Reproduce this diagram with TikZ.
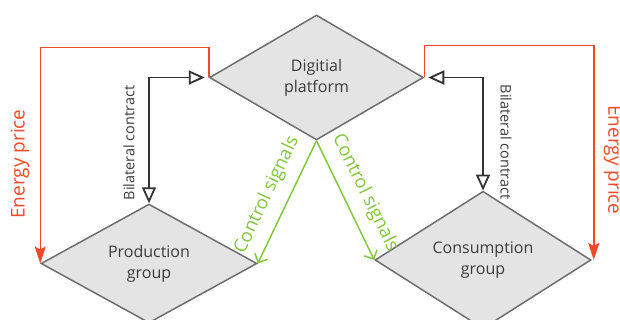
\documentclass[tikz,border=0pt]{standalone}
\usepackage{fontspec}
\setmainfont{Open Sans}
\usetikzlibrary{shapes.geometric,arrows.meta}
\definecolor{dfill}{HTML}{E4E4E4}
\definecolor{dborder}{HTML}{6E6E6E}
\definecolor{dtext}{HTML}{3C3C3C}
\definecolor{ered}{HTML}{F24A26}
\definecolor{cgreen}{HTML}{82C83C}
\definecolor{dblack}{HTML}{333333}
\begin{document}
\begin{tikzpicture}[x=1pt,y=-1pt,
  dia/.style={diamond, draw=dborder, fill=dfill, line width=1.5pt, text=dtext,
    font=\fontsize{16}{21}\selectfont, align=center, inner sep=0pt},
  price/.style={draw=ered, line width=1.5pt, -{Stealth[length=17pt,width=11pt,inset=3pt]}},
  contract/.style={draw=dblack, line width=1.8pt,
    {Triangle[open,length=16pt,width=14pt]}-{Triangle[open,length=16pt,width=14pt]}},
  ctrl/.style={draw=cgreen, line width=1.5pt, -{Straight Barb[length=7pt,width=14pt]}},
  pricelbl/.style={text=ered, font=\fontsize{19}{22}\selectfont, inner sep=0pt},
  contractlbl/.style={text=dtext, font=\fontsize{14.5}{17}\selectfont, inner sep=0pt},
  ctrllbl/.style={text=cgreen, font=\fontsize{18.5}{22}\selectfont, inner sep=0pt}]
\useasboundingbox (0,0) rectangle (620,320);
\node[dia, minimum width=214pt, minimum height=125pt] (plat) at (316.5,77.5) {Digitial\\platform};
\node[dia, minimum width=216pt, minimum height=118pt] (prod) at (149,263.5) {Production\\group};
\node[dia, minimum width=216pt, minimum height=122pt] (cons) at (483,260) {Consumption\\group};
% energy price
\draw[price] (plat.west) -- ++(0,-30) -| (prod.west);
\draw[price] (plat.east) -- ++(0,-32) -| ([xshift=2pt]cons.east);
% bilateral contracts
\draw[contract] (prod.north) |- ([xshift=-4pt]plat.west);
\draw[contract] (cons.north) |- ([xshift=4pt]plat.east);
% control signals
\draw[ctrl] (plat.south) -- (prod.east);
\draw[ctrl] (plat.south) -- (cons.west);
% labels
\node[pricelbl, rotate=90] (ep1) at (20,164) {Energy price};
\node[pricelbl, rotate=-90] (ep2) at (613,160) {Energy price};
\node[contractlbl, rotate=90] (bc1) at (129,143) {Bilateral contract};
\node[contractlbl, rotate=-90] (bc2) at (506,142) {Bilateral contract};
\node[ctrllbl, rotate=64.6] (cs1) at (267,195) {Control signals};
\node[ctrllbl, rotate=-63.8] (cs2) at (365,193) {Control signals};
\end{tikzpicture}
\end{document}
